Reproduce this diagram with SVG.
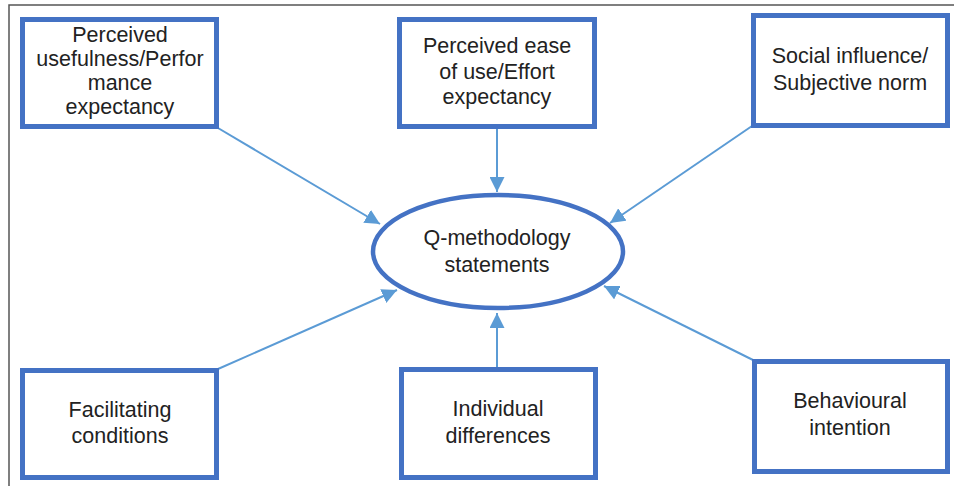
<svg xmlns="http://www.w3.org/2000/svg" width="954" height="486" viewBox="0 0 954 486">
<style>
.box{fill:#fff;stroke:#4472c4;stroke-width:5}
.ell{fill:#fff;stroke:#4472c4;stroke-width:4.5}
.t{font-family:"Liberation Sans",Arial,sans-serif;font-size:21.5px;fill:#222;text-anchor:middle}
.c{stroke:#5b9bd5;stroke-width:2;fill:none;marker-end:url(#ah)}
.frame{stroke:#555;stroke-width:1.5;fill:none}
</style>
<defs>
<marker id="ah" viewBox="0 0 10 10" refX="10" refY="5" markerWidth="7.5" markerHeight="7.5" orient="auto" markerUnits="strokeWidth">
<path d="M0,0 L10,5 L0,10 z" fill="#5b9bd5"/>
</marker>
</defs>
<rect width="954" height="486" fill="#fff"/>
<path class="frame" d="M9,486 L9,5 L954,5"/>
<g id="connectors">
<line class="c" x1="218" y1="128" x2="380" y2="224"/>
<line class="c" x1="497" y1="129" x2="497" y2="192"/>
<line class="c" x1="752" y1="126" x2="610" y2="223"/>
<line class="c" x1="218" y1="369" x2="397" y2="290"/>
<line class="c" x1="497" y1="367" x2="497" y2="313"/>
<line class="c" x1="753" y1="360" x2="604" y2="286"/>
</g>
<g id="n1">
<rect class="box" x="22.5" y="19.5" width="194" height="107"/>
<text class="t" x="120" y="42">Perceived</text>
<text class="t" x="120" y="66">usefulness/Perfor</text>
<text class="t" x="120" y="90">mance</text>
<text class="t" x="120" y="114">expectancy</text>
</g>
<g id="n2">
<rect class="box" x="399.5" y="19.5" width="195" height="107"/>
<text class="t" x="497" y="53">Perceived ease</text>
<text class="t" x="497" y="79">of use/Effort</text>
<text class="t" x="497" y="104">expectancy</text>
</g>
<g id="n3">
<rect class="box" x="753.5" y="15.5" width="194" height="110"/>
<text class="t" x="850" y="63">Social influence/</text>
<text class="t" x="850" y="90">Subjective norm</text>
</g>
<g id="center">
<ellipse class="ell" cx="498" cy="251.5" rx="125" ry="56.5"/>
<text class="t" x="497" y="245">Q-methodology</text>
<text class="t" x="497" y="272">statements</text>
</g>
<g id="n4">
<rect class="box" x="22.5" y="370.5" width="194" height="107"/>
<text class="t" x="120" y="417">Facilitating</text>
<text class="t" x="120" y="443">conditions</text>
</g>
<g id="n5">
<rect class="box" x="401.5" y="369.5" width="194" height="108"/>
<text class="t" x="498" y="416">Individual</text>
<text class="t" x="498" y="443">differences</text>
</g>
<g id="n6">
<rect class="box" x="754.5" y="361.5" width="193" height="110"/>
<text class="t" x="850" y="408">Behavioural</text>
<text class="t" x="850" y="435">intention</text>
</g>
</svg>
